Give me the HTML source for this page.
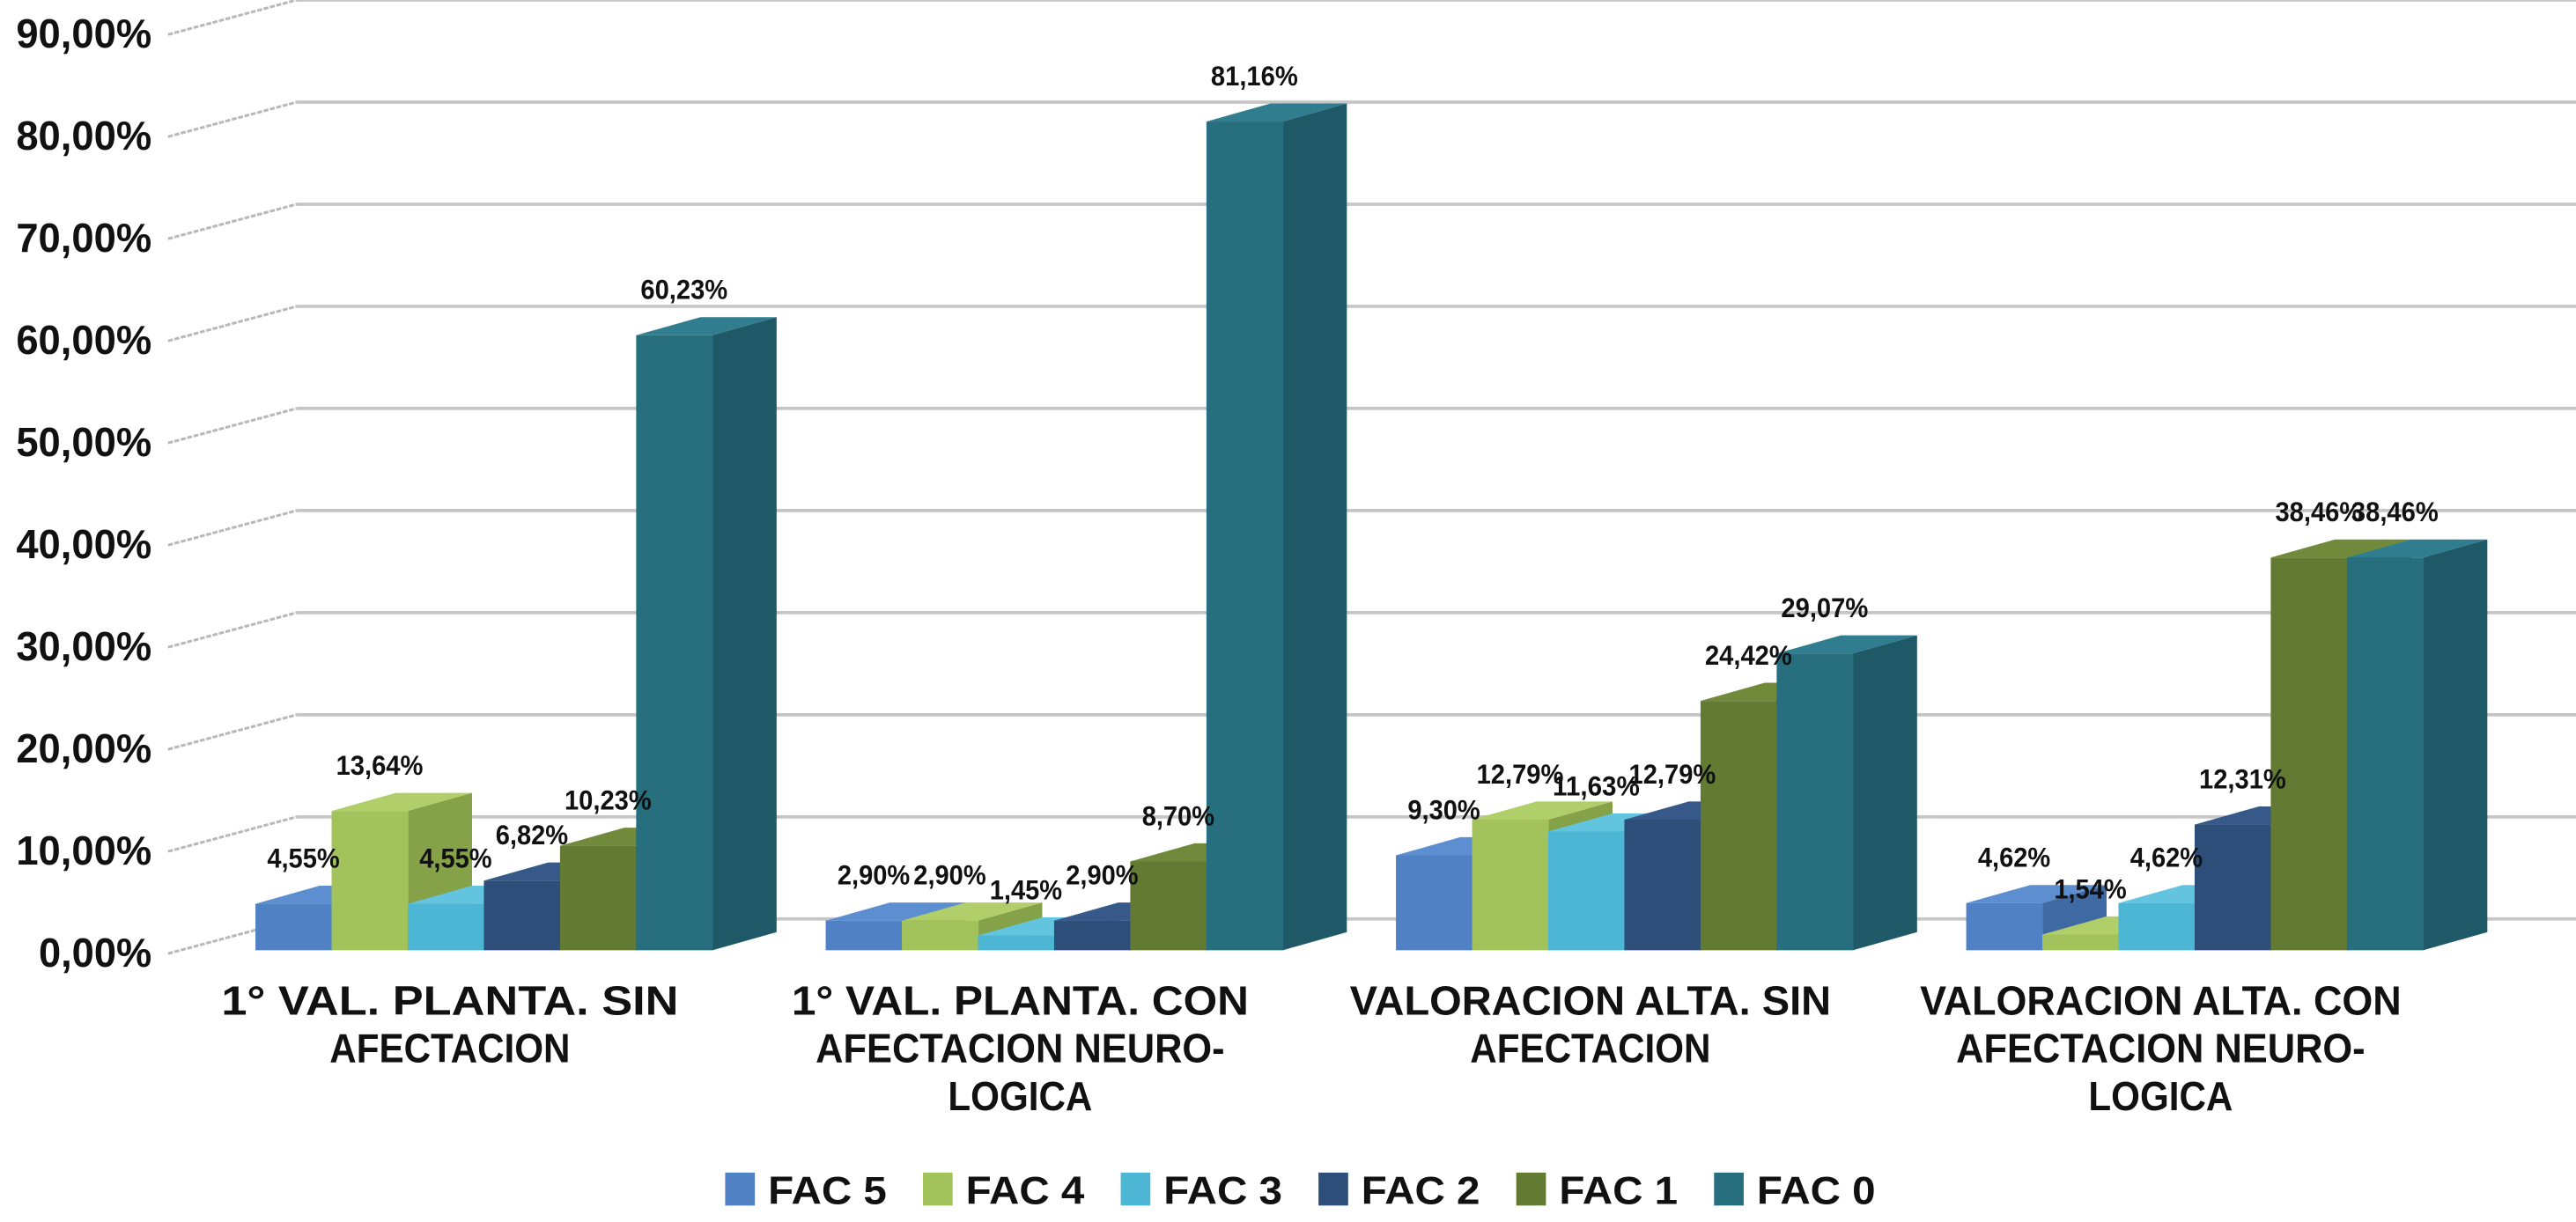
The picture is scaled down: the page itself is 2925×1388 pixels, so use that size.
<!DOCTYPE html>
<html><head><meta charset="utf-8"><style>
html,body{margin:0;padding:0;background:#fff;}
svg{display:block;}
text{font-family:"Liberation Sans",sans-serif;font-weight:bold;fill:#111;}
</style></head><body>
<svg id="chart" width="2925" height="1388" viewBox="0 0 1563 742" preserveAspectRatio="none" xmlns="http://www.w3.org/2000/svg">
<g id="grid"></g>
<g id="yaxis"></g>
<g id="bars"></g>
<g id="labels"></g>
<g id="xaxis"></g>
<g id="legend"></g>
</svg>
<script>
const categories = [
  ["1° VAL. PLANTA. SIN", "AFECTACION"],
  ["1° VAL. PLANTA. CON", "AFECTACION NEURO-", "LOGICA"],
  ["VALORACION ALTA. SIN", "AFECTACION"],
  ["VALORACION ALTA. CON", "AFECTACION NEURO-", "LOGICA"]
];
const seriesNames = ["FAC 5", "FAC 4", "FAC 3", "FAC 2", "FAC 1", "FAC 0"];
const fac5 = [4.55, 2.90, 9.30, 4.62];
const fac4 = [13.64, 2.90, 12.79, 1.54];
const fac3 = [4.55, 1.45, 11.63, 4.62];
const fac2 = [6.82, 2.90, 12.79, 12.31];
const fac1 = [10.23, 8.70, 24.42, 38.46];
const fac0 = [60.23, 81.16, 29.07, 38.46];
const series = [fac5, fac4, fac3, fac2, fac1, fac0];
const yTicks = [0, 10, 20, 30, 40, 50, 60, 70, 80, 90];
const yTickLabels = ["0,00%", "10,00%", "20,00%", "30,00%", "40,00%", "50,00%", "60,00%", "70,00%", "80,00%", "90,00%"];

const frontColors = ["#4f81c4", "#a2c25b", "#4db6d4", "#2d4e78", "#627a32", "#276e7e"];
const sideColors = ["#3f6aa3", "#86a248", "#3c98b2", "#223c5e", "#4d6026", "#1f5866"];
const topColors = ["#5d8fd0", "#b0cf6a", "#63c4df", "#37598a", "#70893b", "#2f7d8e"];

const NS = "http://www.w3.org/2000/svg";
const BASE = 577, SCALE = 6.2, DX = 39, DY = -11, BW = 46.2;
function yv(v) { return BASE - v * SCALE; }
function xb(g, i) { return 155 + g * 346 + i * BW; }
function mk(tag, attrs, parent) {
  const e = document.createElementNS(NS, tag);
  for (const k in attrs) e.setAttribute(k, attrs[k]);
  parent.appendChild(e);
  return e;
}
function fmt(v) { return v.toFixed(2).replace(".", ",") + "%"; }

const grid = document.getElementById("grid");
const yaxis = document.getElementById("yaxis");
yTicks.forEach((t, k) => {
  const yf = yv(t) + 2, yb = yv(t) - 19;
  const s = mk("line", {x1: 102, y1: yf, x2: 180, y2: yb, stroke: "#b8b8b8", "stroke-width": 1.6, "stroke-dasharray": "3 1"}, grid);
  
  
  const h = mk("line", {x1: 180, y1: yb, x2: 1563, y2: yb, stroke: "#c6c6c6", "stroke-width": 2}, grid);
  
  
  const tx = mk("text", {x: 92, y: yf + 8, "text-anchor": "end", "font-size": 25, textLength: yTickLabels[k].length * 13.7, lengthAdjust: "spacingAndGlyphs"}, yaxis);
  tx.textContent = yTickLabels[k];
  
  
});

const bars = document.getElementById("bars");
const labels = document.getElementById("labels");
for (let g = 0; g < categories.length; g++) {
  for (let i = 0; i < series.length; i++) {
    const v = series[i][g];
    const x = xb(g, i), yt = yv(v);
    const grp = mk("g", {}, bars);
    
    
    mk("polygon", {points: `${x+BW},${BASE} ${x+BW+DX},${BASE+DY} ${x+BW+DX},${yt+DY} ${x+BW},${yt}`, fill: sideColors[i]}, grp);
    mk("polygon", {points: `${x},${yt} ${x+DX},${yt+DY} ${x+BW+DX},${yt+DY} ${x+BW},${yt}`, fill: topColors[i]}, grp);
    mk("rect", {x: x, y: yt, width: BW + 0.4, height: BASE - yt, fill: frontColors[i]}, grp);
    const s = fmt(v);
    const lt = mk("text", {x: x + BW / 2 + 6, y: yt - 22, "text-anchor": "middle", "font-size": 17, textLength: s.length * 8.8, lengthAdjust: "spacingAndGlyphs"}, labels);
    lt.textContent = s;
    
    
  }
}

const xaxis = document.getElementById("xaxis");
categories.forEach((lines, g) => {
  const cx = 155 + g * 346 + 118;
  lines.forEach((ln, j) => {
    const t = mk("text", {x: cx, y: 616 + j * 29, "text-anchor": "middle", "font-size": 25, textLength: ln.length * 14.6, lengthAdjust: "spacingAndGlyphs"}, xaxis);
    t.textContent = ln;
    
    
  });
});

const legend = document.getElementById("legend");
seriesNames.forEach((n, i) => {
  const lx = 440 + i * 120;
  const it = mk("g", {}, legend);
  
  
  mk("rect", {x: lx, y: 712, width: 18, height: 20, fill: frontColors[i]}, it);
  const t = mk("text", {x: lx + 26, y: 731, "font-size": 24, textLength: 72, lengthAdjust: "spacingAndGlyphs"}, it);
  t.textContent = n;
});
</script>
</body></html>
